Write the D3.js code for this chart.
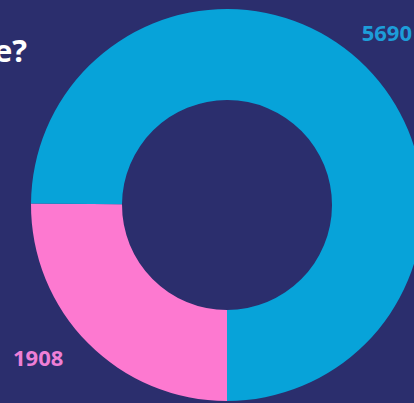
<!DOCTYPE html>
<html>
<head>
<meta charset="utf-8">
<script src="https://cdn.jsdelivr.net/npm/d3@7"></script>
<style>
  html, body { margin: 0; padding: 0; background: #2b2e6d; overflow: hidden; }
  svg { display: block; }
</style>
</head>
<body>
<svg id="chart" width="414" height="403"></svg>
<script>
// data
const categories = ["pink", "blue"];
const values = [1908, 5690];
const labels = ["1908", "5690"];
const titleText = "e?";

const width = 414,
	height = 403;
const cx = 227,
	cy = 205;
const outerR = 196,
	innerR = 105;

const background_color = "#2b2e6d";
const scaleColor = d3.scaleOrdinal(categories, ["#fd79d0", "#07a3d9"]);
const labelColor = d3.scaleOrdinal(categories, ["#ee7fd6", "#1d9dd9"]);

const svg = d3.select("#chart").style("background-color", background_color);

svg.append("rect")
	.attr("width", width)
	.attr("height", height)
	.attr("fill", background_color);

const pie = d3.pie()
	.sort(null)
	.value((d) => d.value)
	.startAngle(Math.PI)
	.endAngle(Math.PI * 3);

const arc = d3.arc().innerRadius(innerR).outerRadius(outerR);

const data = categories.map((c, i) => ({ key: c, value: values[i], label: labels[i] }));

const g = svg.append("g").attr("transform", `translate(${cx},${cy})`);

g.selectAll(".slice")
	.data(pie(data))
	.join("path")
	.classed("slice", true)
	.attr("d", arc)
	.attr("fill", (d) => scaleColor(d.data.key));

// value labels sit in the corners, outside the ring
const labelPos = {
	pink: { x: 13 - cx, y: 366 - cy, anchor: "start" },
	blue: { x: 412 - cx, y: 41 - cy, anchor: "end" },
};

g.selectAll(".label")
	.data(data)
	.join("text")
	.classed("label", true)
	.attr("x", (d) => labelPos[d.key].x)
	.attr("y", (d) => labelPos[d.key].y)
	.attr("text-anchor", (d) => labelPos[d.key].anchor)
	.attr("font-family", "'Open Sans', 'Noto Sans', sans-serif")
	.attr("font-weight", 700)
	.attr("font-size", 22)
	.attr("fill", (d) => labelColor(d.key))
	.text((d) => d.label);

// cut-off title on the left
svg.append("text")
	.attr("x", 27)
	.attr("y", 62)
	.attr("text-anchor", "end")
	.attr("font-family", "'Open Sans', 'Noto Sans', sans-serif")
	.attr("font-weight", 700)
	.attr("font-size", 31)
	.attr("fill", "#ffffff")
	.text(titleText);
</script>
</body>
</html>
